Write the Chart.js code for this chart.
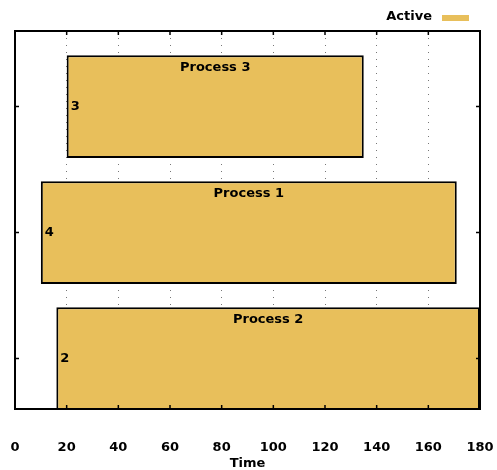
<!DOCTYPE html>
<html>
<head>
<meta charset="utf-8">
<script src="https://cdn.jsdelivr.net/npm/chart.js@4"></script>
<style>
  html, body { margin: 0; padding: 0; background: #fff; }
  #wrap { width: 497px; height: 470px; }
</style>
</head>
<body>
<div id="wrap"><canvas id="c"></canvas></div>
<script>
// Gantt rows: one floating bar per process, top row first
const processes  = ['Process 3', 'Process 1', 'Process 2'];
const rowIndex   = [3, 2, 1];
const startTimes = [20, 10, 16];
const endTimes   = [135, 171, 180];
const counts     = [3, 4, 2];

// Time axis ticks
const timeMin  = 0;
const timeMax  = 180;
const timeStep = 20;

const FONT = 'DejaVu Sans';
const GOLD = '#E8BF5B';
Chart.defaults.font.family = FONT;
Chart.defaults.color = '#000';

// Frame with inward tick marks on all four sides, text inside each bar,
// and a key (label then swatch) above the top-right corner of the plot
const ganttDecor = {
  id: 'ganttDecor',
  afterDatasetsDraw(chart) {
    const { ctx, chartArea: a, scales: { x, y } } = chart;
    const meta = chart.getDatasetMeta(0);
    const ds = chart.data.datasets[0];
    ctx.save();
    ctx.fillStyle = '#000';
    ctx.font = 'bold 13px ' + FONT;
    ctx.textBaseline = 'middle';
    meta.data.forEach((bar, i) => {
      const left = Math.min(bar.x, bar.base);
      const right = Math.max(bar.x, bar.base);
      const top = bar.y - bar.height / 2;
      ctx.textAlign = 'center';
      ctx.fillText(processes[i], (left + right) / 2, top + 12);
      ctx.textAlign = 'left';
      ctx.fillText(String(counts[i]), left + 4, bar.y);
    });

    // key
    ctx.textAlign = 'right';
    ctx.fillText(ds.label, a.right - 48, 16.5);
    ctx.fillStyle = ds.backgroundColor;
    ctx.fillRect(a.right - 38, 15, 27, 6);

    ctx.strokeStyle = '#000';
    ctx.lineWidth = 2;
    ctx.strokeRect(a.left, a.top, a.right - a.left, a.bottom - a.top);
    ctx.lineWidth = 1.5;
    ctx.beginPath();
    x.ticks.forEach(t => {
      const px = x.getPixelForValue(t.value);
      ctx.moveTo(px, a.bottom); ctx.lineTo(px, a.bottom - 4);
      ctx.moveTo(px, a.top);    ctx.lineTo(px, a.top + 4);
    });
    rowIndex.forEach(r => {
      const py = y.getPixelForValue(r);
      ctx.moveTo(a.left, py);  ctx.lineTo(a.left + 4, py);
      ctx.moveTo(a.right, py); ctx.lineTo(a.right - 4, py);
    });
    ctx.stroke();
    ctx.restore();
  }
};

new Chart(document.getElementById('c'), {
  type: 'bar',
  data: {
    datasets: [{
      label: 'Active',
      data: rowIndex.map((r, i) => ({ y: r, x: [startTimes[i], endTimes[i]] })),
      backgroundColor: GOLD,
      borderColor: '#000',
      borderWidth: 2,
      borderSkipped: false,
      barPercentage: 0.815,
      categoryPercentage: 1.0
    }]
  },
  options: {
    indexAxis: 'y',
    responsive: true,
    maintainAspectRatio: false,
    animation: false,
    layout: { padding: { left: 15, right: 17, top: 31, bottom: 0 } },
    plugins: {
      tooltip: { enabled: false },
      legend: { display: false }
    },
    scales: {
      x: {
        type: 'linear',
        position: 'bottom',
        min: timeMin,
        max: timeMax,
        afterFit(scale) { scale.height = 61; },
        ticks: {
          stepSize: timeStep,
          padding: 3,
          maxRotation: 0,
          color: '#000',
          font: { family: FONT, size: 13, weight: 'bold' }
        },
        grid: {
          display: true,
          drawTicks: true,
          tickLength: 28,
          tickColor: 'rgba(0,0,0,0)',
          color: '#777',
          lineWidth: 1
        },
        border: { display: false, dash: [1, 6] },
        title: {
          display: true,
          text: 'Time',
          color: '#000',
          padding: 0,
          font: { family: FONT, size: 13, weight: 'bold', lineHeight: 1 }
        }
      },
      y: {
        type: 'linear',
        min: 0.6,
        max: 3.6,
        offset: false,
        afterBuildTicks(scale) {
          scale.ticks = rowIndex.map(v => ({ value: v }));
        },
        afterFit(scale) { scale.width = 0; },
        ticks: { display: false },
        grid: { display: false, drawTicks: false },
        border: { display: false }
      }
    }
  },
  plugins: [ganttDecor]
});
</script>
</body>
</html>
